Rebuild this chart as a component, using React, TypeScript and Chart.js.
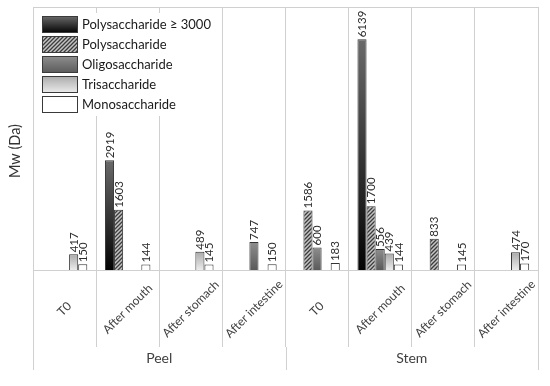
import React, { useEffect, useRef } from "react";
import { Chart, registerables } from "chart.js";

Chart.register(...registerables);

const categories = ["T0", "After mouth", "After stomach", "After intestine", "T0", "After mouth", "After stomach", "After intestine"];
const groups = ["Peel", "Stem"];
const groupSizes = [4, 4];
const seriesLabels = ["Polysaccharide \u2265 3000", "Polysaccharide", "Oligosaccharide", "Trisaccharide", "Monosaccharide"];
const poly3000 = [null, 2919, null, null, null, 6139, null, null];
const poly = [null, 1603, null, null, 1586, 1700, 833, null];
const oligo = [null, null, null, 747, 600, 556, null, null];
const tri = [417, null, 489, null, null, 439, null, 474];
const mono = [150, 144, 145, 150, 183, 144, 145, 170];
const yTitle = "Mw (Da)";
const yMax = 7000;

const FONT = "Lato, 'Open Sans', sans-serif";

let hatchCanvas: HTMLCanvasElement | null = null;
function getHatch(): HTMLCanvasElement {
  if (hatchCanvas) return hatchCanvas;
  const c = document.createElement("canvas");
  c.width = 4;
  c.height = 4;
  const g = c.getContext("2d")!;
  g.fillStyle = "#c4c4c4";
  g.fillRect(0, 0, 4, 4);
  g.strokeStyle = "#3c3c3c";
  g.lineWidth = 1.3;
  g.beginPath();
  g.moveTo(-1, 5);
  g.lineTo(5, -1);
  g.moveTo(-1, 1);
  g.lineTo(1, -1);
  g.moveTo(3, 5);
  g.lineTo(5, 3);
  g.stroke();
  hatchCanvas = c;
  return c;
}

const fallbackColors = ["#333333", "#777777", "#707070", "#cccccc", "#ffffff"];

function makeFill(kind: number, ctx: CanvasRenderingContext2D, top: number, bottom: number): any {
  if (kind === 1) {
    return ctx.createPattern(getHatch(), "repeat");
  }
  if (kind === 4) return "#ffffff";
  if (!isFinite(top) || !isFinite(bottom) || top === bottom) return fallbackColors[kind];
  const g = ctx.createLinearGradient(0, top, 0, bottom);
  if (kind === 0) {
    g.addColorStop(0, "#6a6a6a");
    g.addColorStop(1, "#030303");
  } else if (kind === 2) {
    g.addColorStop(0, "#8e8e8e");
    g.addColorStop(1, "#5a5a5a");
  } else {
    g.addColorStop(0, "#a9a9a9");
    g.addColorStop(1, "#ececec");
  }
  return g;
}

const seriesData = [poly3000, poly, oligo, tri, mono];

const decorPlugin = {
  id: "decor",
  afterDatasetsDraw(chart: any) {
    const ctx: CanvasRenderingContext2D = chart.ctx;
    const area = chart.chartArea;
    ctx.save();
    // data labels
    ctx.font = `11.5px ${FONT}`;
    ctx.fillStyle = "#2b2b2b";
    ctx.textAlign = "left";
    ctx.textBaseline = "middle";
    chart.data.datasets.forEach((ds: any, di: number) => {
      const meta = chart.getDatasetMeta(di);
      meta.data.forEach((el: any, i: number) => {
        const v = ds.data[i];
        if (v == null) return;
        ctx.save();
        ctx.translate(el.x, el.y - 2);
        ctx.rotate(-Math.PI / 2);
        ctx.fillText(String(v), 0, 0.5);
        ctx.restore();
      });
    });
    // legend
    const lx = area.left + 9;
    const ly = area.top + 9;
    ctx.fillStyle = "#ffffff";
    ctx.fillRect(area.left + 6, area.top + 6, 180, 103);
    ctx.font = `13px ${FONT}`;
    ctx.textBaseline = "middle";
    seriesLabels.forEach((lab, k) => {
      const top = ly + k * 20;
      ctx.fillStyle = makeFill(k, ctx, top, top + 17);
      ctx.fillRect(lx, top, 36, 17);
      ctx.strokeStyle = "#3a3a3a";
      ctx.lineWidth = 1;
      ctx.strokeRect(lx + 0.5, top + 0.5, 35, 16);
      ctx.fillStyle = "#1a1a1a";
      ctx.fillText(lab, lx + 40, top + 9);
    });
    ctx.restore();
  },
  afterDraw(chart: any) {
    const ctx: CanvasRenderingContext2D = chart.ctx;
    const area = chart.chartArea;
    const xs = chart.scales.x;
    ctx.save();
    ctx.strokeStyle = "#d0d0d0";
    ctx.lineWidth = 1;
    // top border
    ctx.beginPath();
    ctx.moveTo(area.left, Math.round(area.top) + 0.5);
    ctx.lineTo(area.right, Math.round(area.top) + 0.5);
    ctx.stroke();
    // group boundary lines extending
    const tickEnd = xs.top + 77;
    const bounds: number[] = [];
    let idx = 0;
    bounds.push(xs.left);
    groupSizes.forEach((n) => {
      idx += n;
      if (idx < categories.length) {
        bounds.push((xs.getPixelForValue(idx - 1) + xs.getPixelForValue(idx)) / 2);
      } else {
        bounds.push(xs.right);
      }
    });
    bounds.forEach((bx) => {
      const px = Math.round(bx) + 0.5;
      ctx.beginPath();
      ctx.moveTo(px, tickEnd);
      ctx.lineTo(px, tickEnd + 23);
      ctx.stroke();
    });
    // category labels
    ctx.fillStyle = "#404040";
    ctx.font = `12px ${FONT}`;
    ctx.textAlign = "center";
    ctx.textBaseline = "middle";
    categories.forEach((c, i) => {
      const cx = xs.getPixelForValue(i);
      ctx.save();
      ctx.translate(cx, xs.top + 39);
      ctx.rotate(-Math.PI / 4);
      ctx.fillText(c, 0, 0);
      ctx.restore();
    });
    // group labels
    ctx.font = `14px ${FONT}`;
    groups.forEach((g, k) => {
      const gx = (bounds[k] + bounds[k + 1]) / 2;
      ctx.fillText(g, gx, xs.top + 88);
    });
    // y title
    ctx.save();
    ctx.translate(15, 151);
    ctx.rotate(-Math.PI / 2);
    ctx.font = `14.5px ${FONT}`;
    ctx.fillStyle = "#333333";
    ctx.fillText(yTitle, 0, 0);
    ctx.restore();
    ctx.restore();
  },
};

export default function App() {
  const ref = useRef<HTMLCanvasElement | null>(null);
  useEffect(() => {
    if (!ref.current) return;
    const chart = new Chart(ref.current, {
      type: "bar",
      data: {
        labels: categories,
        datasets: seriesData.map((d, k) => ({
          label: seriesLabels[k],
          data: d,
          backgroundColor: (c: any) => {
            const ys = c.chart.scales && c.chart.scales.y;
            if (!ys || c.raw == null) return fallbackColors[k];
            const top = ys.getPixelForValue(c.raw);
            const bottom = ys.getPixelForValue(0);
            return makeFill(k, c.chart.ctx, top, bottom);
          },
          borderColor: "#333333",
          borderWidth: 1,
          categoryPercentage: 0.72,
          barPercentage: 1,
        })) as any,
      },
      options: {
        responsive: false,
        animation: false,
        devicePixelRatio: 1,
        layout: { padding: { left: 33, right: 12, top: 7, bottom: 39 } },
        plugins: { legend: { display: false }, tooltip: { enabled: false } },
        scales: {
          x: {
            display: true,
            offset: true,
            ticks: { display: false },
            grid: { offset: true, color: "#d0d0d0", lineWidth: 1, tickLength: 77, drawTicks: true },
            border: { display: true, color: "#d0d0d0" },
          },
          y: { display: false, min: 0, max: yMax },
        },
      },
      plugins: [decorPlugin],
    });
    return () => chart.destroy();
  }, []);
  return (
    <div style={{ position: "fixed", left: 0, top: 0, width: 550, height: 386, background: "#fff" }}>
      <canvas ref={ref} width={550} height={386} />
    </div>
  );
}
